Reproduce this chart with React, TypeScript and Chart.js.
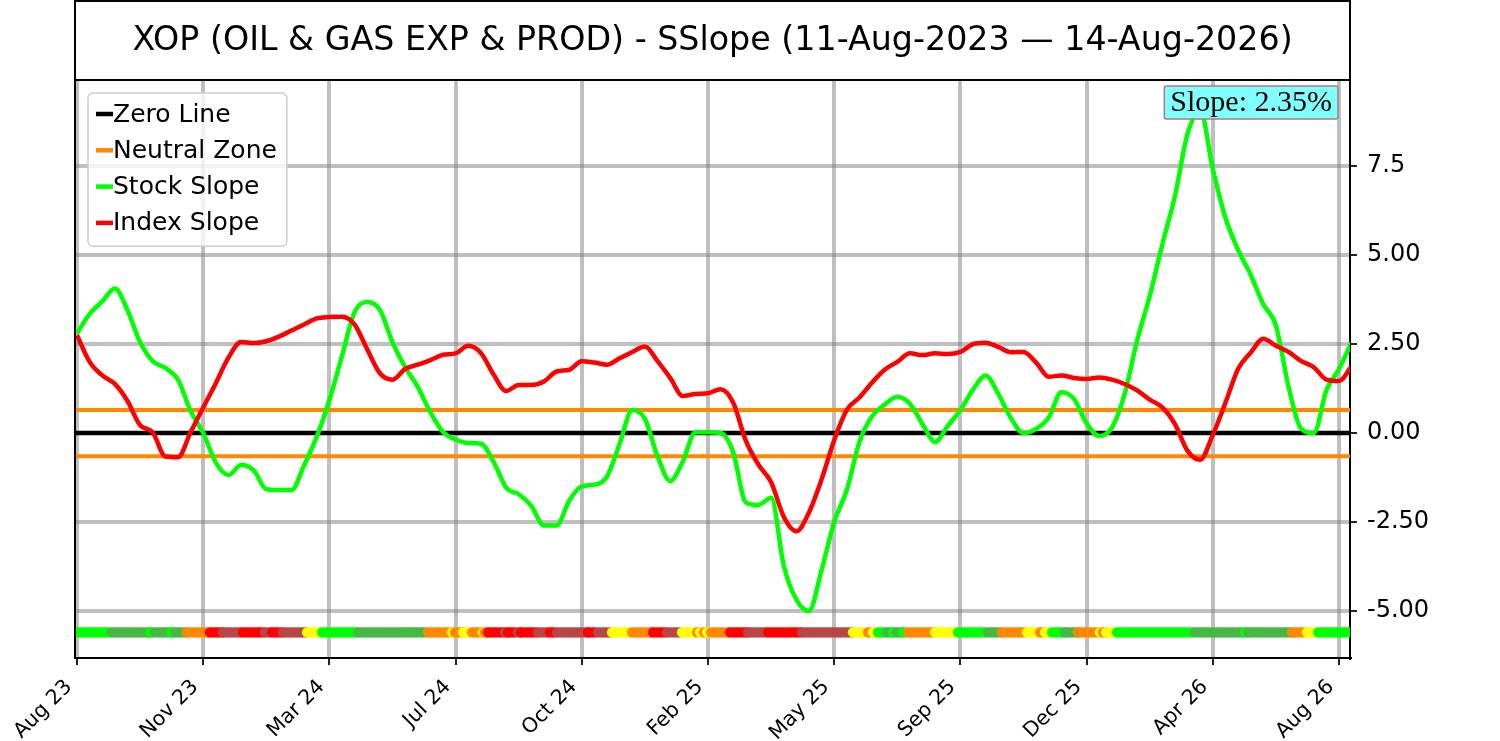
import { useEffect, useRef } from 'react'
import { Chart, registerables, Plugin } from 'chart.js'

Chart.register(...registerables)

const titleText = 'XOP (OIL & GAS EXP & PROD) - SSlope (11-Aug-2023 \u2014 14-Aug-2026)'

// x positions are sample steps; a tick label every 10 steps
const xTickSteps = [0, 10, 20, 30, 40, 50, 60, 70, 80, 90, 100]
const xTickLabels = ['Aug 23', 'Nov 23', 'Mar 24', 'Jul 24', 'Oct 24', 'Feb 25', 'May 25', 'Sep 25', 'Dec 25', 'Apr 26', 'Aug 26']

const yTickValues = [-5, -2.5, 0, 2.5, 5, 7.5]
const yTickLabels = ['-5.00', '-2.50', '0.00', '2.50', '5.00', '7.5']

const stockSlope = [
  2.8, 3.35, 3.7, 4.06, 3.45, 2.55, 2.02, 1.83, 1.5, 0.62,
  0.0, -0.83, -1.18, -0.9, -1.05, -1.58, -1.6, -1.6, -0.9, -0.1,
  0.93, 2.17, 3.4, 3.68, 3.46, 2.55, 1.85, 1.3, 0.58, 0.03,
  -0.18, -0.28, -0.3, -0.8, -1.53, -1.72, -2.05, -2.6, -2.6, -1.9,
  -1.5, -1.45, -1.22, -0.3, 0.65, 0.4, -0.65, -1.35, -0.8, 0.02,
  0.02, 0.0, -0.55, -1.95, -2.02, -1.82, -3.72, -4.68, -5.0, -3.85,
  -2.5, -1.6, -0.25, 0.47, 0.8, 1.02, 0.82, 0.25, -0.25, 0.2,
  0.65, 1.22, 1.62, 1.1, 0.42, 0.0, 0.12, 0.44, 1.15, 0.96,
  0.27, -0.08, 0.15, 1.08, 2.6, 3.85, 5.3, 6.66, 8.41, 9.05,
  7.42, 6.05, 5.15, 4.45, 3.62, 3.02, 1.3, 0.12, 0.0, 1.2,
  1.8, 2.55,
]

const indexSlope = [
  2.75, 2.0, 1.62, 1.38, 0.9, 0.22, 0.02, -0.66, -0.68, 0.02,
  0.72, 1.4, 2.12, 2.56, 2.53, 2.58, 2.71, 2.88, 3.05, 3.22,
  3.26, 3.27, 3.05, 2.35, 1.68, 1.5, 1.8, 1.92, 2.05, 2.2,
  2.24, 2.45, 2.25, 1.65, 1.18, 1.35, 1.35, 1.45, 1.73, 1.78,
  2.02, 1.98, 1.92, 2.1, 2.28, 2.43, 2.02, 1.55, 1.04, 1.1,
  1.12, 1.23, 0.85, -0.22, -0.89, -1.38, -2.35, -2.76, -2.23, -1.3,
  -0.2, 0.65, 1.0, 1.42, 1.78, 2.0, 2.24, 2.19, 2.24, 2.22,
  2.28, 2.5, 2.54, 2.42, 2.27, 2.28, 1.98, 1.58, 1.62, 1.55,
  1.52, 1.56, 1.5, 1.38, 1.2, 0.94, 0.72, 0.25, -0.5, -0.75,
  -0.05, 0.85, 1.8, 2.26, 2.65, 2.45, 2.28, 2.02, 1.85, 1.5,
  1.46, 1.88,
]

const neutralZone = 0.65
const latestSlope = 2.35
const stripLevel = -5.6

// status strip: [state, first step of the run]
const stripRuns: [string, number][] = [
  ['L', 0], ['G', 2.75], ['L', 5.78], ['G', 6.18], ['L', 7.5], ['G', 7.77],
  ['O', 8.69], ['R', 10.54], ['B', 11.57], ['R', 13.15], ['B', 14.9], ['R', 15.45],
  ['B', 16.32], ['Y', 18.23], ['L', 19.41], ['G', 22.27], ['O', 27.81], ['Y', 29.71],
  ['O', 29.95], ['Y', 30.59], ['O', 31.3], ['Y', 32.17], ['O', 32.33], ['R', 32.57],
  ['B', 33.91], ['R', 34.15], ['B', 34.94], ['R', 35.18], ['B', 36.53], ['R', 37.48],
  ['B', 38.04], ['R', 40.49], ['B', 41.28], ['Y', 42.39], ['O', 43.98], ['R', 45.64],
  ['B', 46.75], ['Y', 47.94], ['O', 49.13], ['Y', 49.37], ['O', 49.68], ['Y', 49.92],
  ['O', 50.24], ['R', 51.75], ['B', 53.18], ['R', 54.76], ['B', 57.45], ['Y', 61.49],
  ['O', 62.68], ['Y', 63.08], ['L', 63.47], ['G', 64.18], ['L', 64.66], ['G', 64.98],
  ['L', 65.45], ['O', 65.85], ['Y', 67.99], ['L', 69.81], ['G', 72.19], ['O', 73.3],
  ['Y', 75.28], ['O', 76.31], ['Y', 76.7], ['L', 77.26], ['G', 78.29], ['O', 79.32],
  ['Y', 81.06], ['O', 81.3], ['Y', 81.54], ['L', 82.41], ['G', 88.59], ['L', 92.55],
  ['G', 92.79], ['O', 96.28], ['Y', 97.46], ['L', 98.34],
]
const stripEnd = 101

const stripPalette: Record<string, string> = {
  L: '#00ff00',
  G: '#45b845',
  O: '#ff8800',
  R: '#ff0000',
  B: '#bb4545',
  Y: '#ffff00',
}

const stripDots = () => {
  const pts: { x: number; y: number }[] = []
  const colors: string[] = []
  stripRuns.forEach(([state, start], k) => {
    const end = k + 1 < stripRuns.length ? stripRuns[k + 1][1] : stripEnd
    for (let x = start; x < end; x += 0.2) {
      pts.push({ x, y: stripLevel })
      colors.push(stripPalette[state])
    }
  })
  return { pts, colors }
}

const FONT = '"DejaVu Sans", sans-serif'

const overlayPlugin: Plugin<'line'> = {
  id: 'overlay',
  afterDraw(chart) {
    const { ctx, chartArea: ca } = chart
    ctx.save()

    // title box
    ctx.strokeStyle = '#000'
    ctx.lineWidth = 2
    ctx.strokeRect(ca.left, 1, ca.right - ca.left, ca.top - 1)
    ctx.fillStyle = '#000'
    ctx.font = `33.3px ${FONT}`
    ctx.textAlign = 'center'
    ctx.textBaseline = 'middle'
    ctx.fillText(titleText, (ca.left + ca.right) / 2, ca.top / 2 + 1)

    // left spine
    ctx.beginPath()
    ctx.moveTo(ca.left, ca.top)
    ctx.lineTo(ca.left, ca.bottom)
    ctx.stroke()

    // legend
    const items = chart.data.datasets.filter((d) => d.label)
    ctx.font = `25px ${FONT}`
    const textW = Math.max(...items.map((d) => ctx.measureText(d.label as string).width))
    const lx = ca.left + 13
    const ly = ca.top + 13
    const rowH = 36.3
    ctx.beginPath()
    ctx.roundRect(lx, ly, 25 + textW + 10, items.length * rowH + 8, 5)
    ctx.fillStyle = 'rgba(255,255,255,0.8)'
    ctx.fill()
    ctx.strokeStyle = '#cccccc'
    ctx.lineWidth = 1.5
    ctx.stroke()
    ctx.textAlign = 'left'
    items.forEach((d, i) => {
      const cy = ly + 21 + i * rowH
      ctx.strokeStyle = d.borderColor as string
      ctx.lineWidth = 4.5
      ctx.beginPath()
      ctx.moveTo(lx + 8, cy)
      ctx.lineTo(lx + 25, cy)
      ctx.stroke()
      ctx.fillStyle = '#000'
      ctx.fillText(d.label as string, lx + 25, cy + 1)
    })

    // latest slope badge
    const badge = `Slope: ${latestSlope.toFixed(2)}%`
    ctx.font = '30px "Liberation Serif", serif'
    const bw = ctx.measureText(badge).width + 12
    const bx = ca.right - 12 - bw
    const by = ca.top + 6
    ctx.beginPath()
    ctx.roundRect(bx, by, bw, 33, 2)
    ctx.fillStyle = '#80ffff'
    ctx.fill()
    ctx.strokeStyle = '#b07878'
    ctx.lineWidth = 1.5
    ctx.stroke()
    ctx.fillStyle = '#000'
    ctx.textAlign = 'left'
    ctx.fillText(badge, bx + 6, by + 17)

    ctx.restore()
  },
}

const App = () => {
  const canvas = useRef<HTMLCanvasElement>(null)

  useEffect(() => {
    if (!canvas.current) return
    const strip = stripDots()
    const xMin = -0.16
    const xMax = 100.87

    const chart = new Chart(canvas.current, {
      type: 'line',
      data: {
        datasets: [
          {
            label: 'Zero Line',
            data: [{ x: xMin - 1, y: 0 }, { x: xMax + 1, y: 0 }],
            borderColor: '#000000',
            borderWidth: 4.5,
            pointRadius: 0,
            order: 6,
          },
          {
            label: 'Neutral Zone',
            data: [{ x: xMin - 1, y: neutralZone }, { x: xMax + 1, y: neutralZone }],
            borderColor: '#ff8800',
            borderWidth: 4,
            pointRadius: 0,
            order: 5,
          },
          {
            label: '',
            data: [{ x: xMin - 1, y: -neutralZone }, { x: xMax + 1, y: -neutralZone }],
            borderColor: '#ff8800',
            borderWidth: 4,
            pointRadius: 0,
            order: 5,
          },
          {
            label: 'Stock Slope',
            data: stockSlope.map((y, x) => ({ x, y })),
            borderColor: '#00ff00',
            borderWidth: 4.5,
            pointRadius: 0,
            cubicInterpolationMode: 'monotone',
            order: 4,
          },
          {
            label: 'Index Slope',
            data: indexSlope.map((y, x) => ({ x, y })),
            borderColor: '#ff0000',
            borderWidth: 4.5,
            pointRadius: 0,
            cubicInterpolationMode: 'monotone',
            order: 3,
          },
          {
            label: '',
            data: strip.pts,
            showLine: false,
            borderColor: 'transparent',
            pointRadius: 5.2,
            pointBorderWidth: 0,
            pointBackgroundColor: strip.colors,
            order: 2,
          },
        ],
      },
      options: {
        responsive: true,
        maintainAspectRatio: false,
        animation: false,
        clip: 0,
        layout: { padding: { left: 75, top: 80, right: 0, bottom: 0 } },
        plugins: {
          legend: { display: false },
          title: { display: false },
          tooltip: { enabled: false },
        },
        scales: {
          x: {
            type: 'linear',
            min: xMin,
            max: xMax,
            afterBuildTicks: (scale) => {
              scale.ticks = xTickSteps.map((value) => ({ value }))
            },
            afterFit: (scale) => {
              scale.height = 83
            },
            ticks: {
              autoSkip: false,
              minRotation: 45,
              maxRotation: 45,
              padding: 10,
              labelOffset: -8,
              color: '#000',
              font: { family: FONT, size: 20.5 },
              callback: (v) => xTickLabels[xTickSteps.indexOf(Number(v))] ?? '',
            },
            grid: {
              color: 'rgba(128,128,128,0.5)',
              lineWidth: 4,
              tickLength: 7,
              tickColor: '#222',
              tickWidth: 2,
            },
            border: { display: true, color: '#000', width: 2 },
          },
          y: {
            type: 'linear',
            position: 'right',
            min: -6.32,
            max: 9.92,
            afterBuildTicks: (scale) => {
              scale.ticks = yTickValues.map((value) => ({ value }))
            },
            afterFit: (scale) => {
              scale.width = 150
            },
            ticks: {
              padding: 10,
              color: '#000',
              font: { family: FONT, size: 24 },
              callback: (v) => yTickLabels[yTickValues.indexOf(Number(v))] ?? '',
            },
            grid: {
              color: 'rgba(128,128,128,0.5)',
              lineWidth: 4,
              tickLength: 7,
              tickColor: '#222',
              tickWidth: 2,
            },
            border: { display: true, color: '#000', width: 2 },
          },
        },
      },
      plugins: [overlayPlugin],
    })

    return () => {
      chart.destroy()
    }
  }, [])

  return (
    <div style={{ position: 'absolute', left: 0, top: 0, width: 1500, height: 741, background: '#fff' }}>
      <canvas ref={canvas} />
    </div>
  )
}

export default App
